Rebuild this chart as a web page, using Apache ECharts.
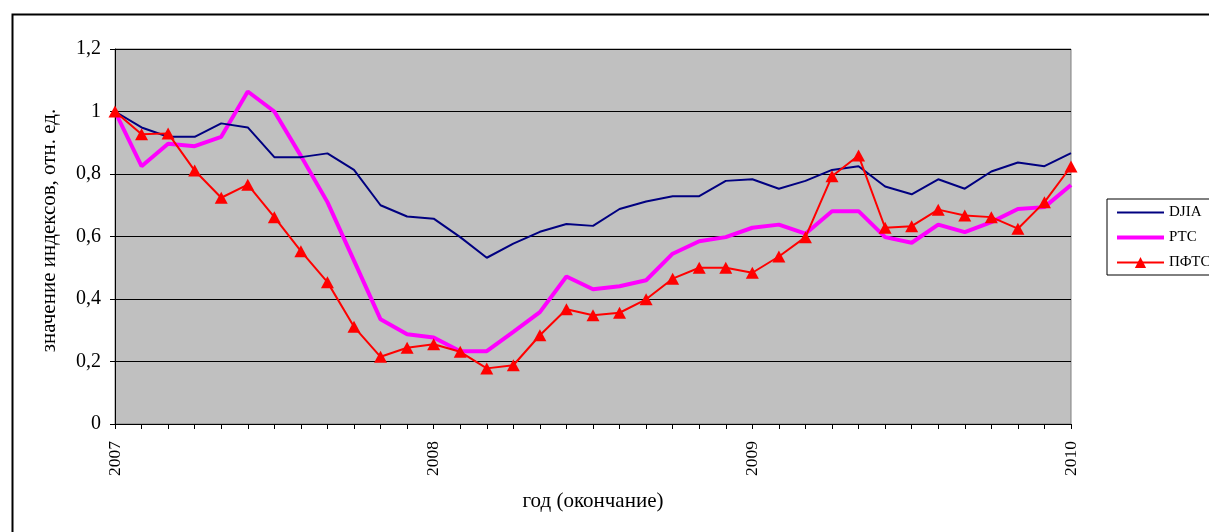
<!DOCTYPE html>
<html>
<head>
<meta charset="utf-8">
<script src="https://cdn.jsdelivr.net/npm/echarts@6/dist/echarts.min.js"></script>
<style>
html,body{margin:0;padding:0;background:#fff;}
#chart{width:1209px;height:532px;}
</style>
</head>
<body>
<div id="chart"></div>
<script>
var categories = [
 '2007-01','2007-02','2007-03','2007-04','2007-05','2007-06','2007-07','2007-08','2007-09','2007-10','2007-11','2007-12',
 '2008-01','2008-02','2008-03','2008-04','2008-05','2008-06','2008-07','2008-08','2008-09','2008-10','2008-11','2008-12',
 '2009-01','2009-02','2009-03','2009-04','2009-05','2009-06','2009-07','2009-08','2009-09','2009-10','2009-11','2009-12',
 '2010-01'];
var tickLabels = {0:'2007', 12:'2008', 24:'2009', 36:'2010'};
var yTicks = [0, 0.2, 0.4, 0.6, 0.8, 1, 1.2];
var djia = [1.0,0.949,0.919,0.919,0.962,0.949,0.854,0.854,0.866,0.813,0.70,0.664,0.657,0.598,0.532,0.577,0.615,0.640,0.634,0.688,0.712,0.729,0.729,0.778,0.783,0.753,0.778,0.813,0.825,0.760,0.735,0.783,0.753,0.808,0.837,0.825,0.867];
var rts = [1.0,0.825,0.897,0.889,0.919,1.064,1.0,0.858,0.71,0.523,0.335,0.287,0.277,0.233,0.233,0.295,0.358,0.472,0.431,0.441,0.460,0.545,0.585,0.598,0.628,0.638,0.609,0.681,0.681,0.598,0.580,0.638,0.614,0.646,0.688,0.694,0.765];
var pfts = [1.0,0.927,0.93,0.811,0.724,0.766,0.662,0.553,0.454,0.311,0.215,0.244,0.255,0.231,0.178,0.188,0.284,0.367,0.348,0.356,0.399,0.465,0.500,0.500,0.484,0.536,0.598,0.793,0.859,0.628,0.633,0.686,0.667,0.662,0.625,0.710,0.824];
var seriesNames = ['DJIA', 'РТС', 'ПФТС'];

var serif = '"Liberation Serif", "DejaVu Serif", serif';
var chart = echarts.init(document.getElementById('chart'));
chart.setOption({
  animation: false,
  backgroundColor: '#fff',
  graphic: [{
    type: 'rect', left: 10, top: 12, z: -10,
    shape: {width: 1300, height: 600},
    style: {fill: 'none', stroke: '#000', lineWidth: 2}
  }],
  grid: {
    left: 115, right: 138, top: 49, bottom: 108,
    show: true, backgroundColor: '#C0C0C0', borderColor: '#808080', borderWidth: 1
  },
  legend: {
    orient: 'vertical', left: 1107, top: 199,
    itemWidth: 47, itemHeight: 14, itemGap: 10,
    padding: [6, 6, 5, 8],
    borderColor: '#000', borderWidth: 1, backgroundColor: '#fff',
    textStyle: {fontFamily: serif, fontSize: 15, lineHeight: 14, color: '#000'},
    data: [
      {name: seriesNames[0], itemStyle: {opacity: 0}, lineStyle: {width: 2}},
      {name: seriesNames[1], itemStyle: {opacity: 0}, lineStyle: {width: 4}},
      {name: seriesNames[2], lineStyle: {width: 2}}
    ]
  },
  xAxis: {
    type: 'category', data: categories, boundaryGap: false,
    name: 'год (окончание)', nameLocation: 'middle', nameGap: 67,
    nameTextStyle: {fontFamily: serif, fontSize: 21, color: '#000'},
    axisLine: {lineStyle: {color: '#000', width: 1}},
    axisTick: {show: true, interval: 0, length: 5, lineStyle: {color: '#000'}},
    axisLabel: {
      interval: 0, rotate: 90, fontFamily: serif, fontSize: 17.5, color: '#000', margin: 17,
      formatter: function (v, i) { return tickLabels[i] || ''; }
    },
    splitLine: {show: false}
  },
  yAxis: {
    type: 'value', min: 0, max: 1.2, interval: 0.2,
    name: 'значение индексов, отн. ед.', nameLocation: 'middle', nameGap: 55,
    nameTextStyle: {fontFamily: serif, fontSize: 21, color: '#000', padding: [0, 0, 0, 12]},
    axisLine: {show: true, lineStyle: {color: '#000', width: 1}},
    axisTick: {show: true, length: 5, lineStyle: {color: '#000'}},
    axisLabel: {
      fontFamily: serif, fontSize: 20, color: '#000', margin: 14,
      formatter: function (v) {
        var t = yTicks.reduce(function (a, b) { return Math.abs(b - v) < Math.abs(a - v) ? b : a; });
        return String(Math.round(t * 10) / 10).replace('.', ',');
      }
    },
    splitLine: {show: true, lineStyle: {color: '#000', width: 1}}
  },
  series: [
    {name: seriesNames[0], type: 'line', data: djia, symbol: 'none',
     lineStyle: {color: '#000080', width: 2}, itemStyle: {color: '#000080'}, z: 3},
    {name: seriesNames[1], type: 'line', data: rts, symbol: 'none',
     lineStyle: {color: '#FF00FF', width: 4}, itemStyle: {color: '#FF00FF'}, z: 2},
    {name: seriesNames[2], type: 'line', data: pfts, symbol: 'triangle', symbolSize: [13, 12],
     lineStyle: {color: '#FF0000', width: 2}, itemStyle: {color: '#FF0000'}, z: 4}
  ]
});
</script>
</body>
</html>
